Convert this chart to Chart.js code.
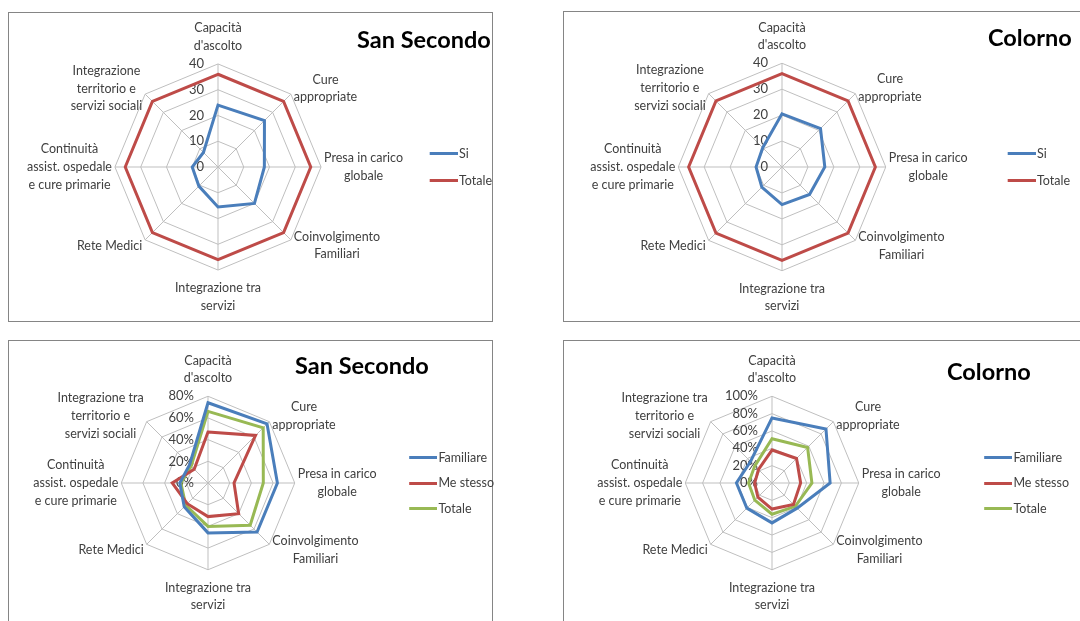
<!DOCTYPE html>
<html>
<head>
<meta charset="utf-8">
<script src="https://cdn.jsdelivr.net/npm/chart.js@4.4.1/dist/chart.umd.min.js"></script>
<style>
	body { margin: 0; background: #fff; width: 1080px; height: 621px; overflow: hidden; position: relative; font-family: Lato, 'Open Sans', sans-serif; }
	.panel { position: absolute; border: 1px solid #858585; box-sizing: border-box; background: #fff; }
	canvas { position: absolute; }
	.title { position: absolute; font-weight: bold; font-size: 23.5px; color: #000; white-space: nowrap; line-height: 1.2; }
</style>
</head>
<body>
<div class="panel" style="left:8px;top:12px;width:485px;height:310px;"></div>
<div class="panel" style="left:563px;top:11px;width:540px;height:311px;"></div>
<div class="panel" style="left:8px;top:340px;width:485px;height:300px;"></div>
<div class="panel" style="left:563px;top:340px;width:540px;height:300px;"></div>

<canvas id="c1" width="481" height="292" style="left:21px;top:21px;"></canvas>
<canvas id="c2" width="509" height="292" style="left:571px;top:21px;"></canvas>
<canvas id="c3" width="485" height="258" style="left:19px;top:354px;"></canvas>
<canvas id="c4" width="507" height="258" style="left:572px;top:354px;"></canvas>

<div class="title" style="left:357px;top:25px;">San Secondo</div>
<div class="title" style="left:988px;top:23px;">Colorno</div>
<div class="title" style="left:295px;top:351px;">San Secondo</div>
<div class="title" style="left:947px;top:357px;">Colorno</div>

<script>
// categorie
var labelsSi = [['Capacità', "d'ascolto"], ['Cure', 'appropriate'], ['Presa in carico', 'globale'], ['Coinvolgimento', 'Familiari'], ['Integrazione tra', 'servizi'], 'Rete Medici', ['Continuità', 'assist. ospedale', 'e cure primarie'], ['Integrazione', 'territorio e', 'servizi sociali']];
var labelsPerc = [['Capacità', "d'ascolto"], ['Cure', 'appropriate'], ['Presa in carico', 'globale'], ['Coinvolgimento', 'Familiari'], ['Integrazione tra', 'servizi'], 'Rete Medici', ['Continuità', 'assist. ospedale', 'e cure primarie'], ['Integrazione tra', 'territorio e', 'servizi sociali']];

// San Secondo - risposte (n)
var ssSi = [24, 25.5, 18, 20, 15.5, 10.5, 10, 8];
var ssTotale = [36, 36, 36, 36, 36, 36, 36, 36];
// Colorno - risposte (n)
var coSi = [20.5, 21, 16.5, 15, 14.5, 11, 10, 10.5];
var coTotale = [36, 36, 36, 36, 36, 36, 36, 36];

// San Secondo - %
var ssFamiliare = [74, 77, 64, 64, 46, 31, 26, 24];
var ssMeStesso = [47, 62, 24, 40, 31, 27, 33, 18];
var ssTotPerc = [66, 72, 51, 55, 40, 29, 25, 22];
// Colorno - %
var coFamiliare = [75, 88, 67, 41, 46, 41, 41, 35];
var coMeStesso = [38, 40, 33, 35, 30, 23, 20, 22];
var coTotPerc = [51, 58, 46, 38, 36, 28, 27, 28];

var BLUE = '#4a7ebb', RED = '#be4b48', GREEN = '#98b954';
var TXT = '#404040';
var FONT = 'Lato, "Open Sans", sans-serif';
var LBL_SIZE = 12.5, LBL_LH = 1.42;

Chart.defaults.font.family = FONT;
Chart.defaults.color = TXT;

// etichette dei tick a sinistra dell'asse verticale, come in Excel
var sideTicks = {
	id: 'sideTicks',
	beforeDatasetsDraw: function (chart, args, opts) {
		var s = chart.scales.r;
		var ctx = chart.ctx;
		ctx.save();
		ctx.font = '13px ' + FONT;
		ctx.fillStyle = TXT;
		ctx.textAlign = 'right';
		ctx.textBaseline = 'middle';
		s.ticks.forEach(function (t) {
			var d = s.getDistanceFromCenterForValue(t.value);
			ctx.fillText(opts.fmt(t.value), s.xCenter - 14, s.yCenter - d);
		});
		ctx.restore();
	}
};

// etichette delle categorie alla maniera di Excel: righe centrate nel blocco,
// blocchi diagonali centrati in verticale sul vertice
var excelLabels = {
	id: 'excelLabels',
	afterDraw: function (chart) {
		var s = chart.scales.r;
		var ctx = chart.ctx;
		var lh = LBL_SIZE * LBL_LH;
		ctx.save();
		ctx.font = LBL_SIZE + 'px ' + FONT;
		ctx.fillStyle = TXT;
		ctx.textAlign = 'center';
		ctx.textBaseline = 'middle';
		s._pointLabels.forEach(function (lbl, i) {
			var lines = [].concat(lbl);
			var a = s.getIndexAngle(i);
			var p = s.getPointPosition(i, s.drawingArea);
			var hx = Math.sin(a), vy = -Math.cos(a);
			var bw = 0;
			lines.forEach(function (ln) { bw = Math.max(bw, ctx.measureText(ln).width); });
			var bh = lines.length * lh;
			var cx, top;
			if (Math.abs(hx) < 0.01) {
				cx = p.x;
				top = vy < 0 ? p.y - 9 - bh : p.y + 9;
			} else {
				cx = hx > 0 ? p.x + 3 + bw / 2 : p.x - 3 - bw / 2;
				top = p.y + vy * 8 - bh / 2;
			}
			lines.forEach(function (ln, k) {
				ctx.fillText(ln, cx, top + lh * (k + 0.5));
			});
		});
		ctx.restore();
	}
};

// campione della legenda: linea subito prima del testo
function legendLine(color) {
	var c = document.createElement('canvas');
	c.width = 38; c.height = 3;
	var g = c.getContext('2d');
	g.fillStyle = color;
	g.fillRect(10, 0, 28, 3);
	return c;
}

function ds(label, data, color) {
	return { label: label, data: data, borderColor: color, backgroundColor: color, borderWidth: 3, pointRadius: 0, pointStyle: legendLine(color), fill: false, tension: 0 };
}

function radar(id, labels, datasets, max, step, fmt, legendPad) {
	return new Chart(document.getElementById(id), {
		type: 'radar',
		data: { labels: labels, datasets: datasets },
		plugins: [sideTicks, excelLabels],
		options: {
			responsive: false, animation: false,
			layout: { padding: 0 },
			plugins: {
				sideTicks: { fmt: fmt },
				tooltip: { enabled: false },
				legend: {
					position: 'right',
					labels: { usePointStyle: true, pointStyleWidth: 28, boxHeight: 3, padding: legendPad, color: TXT, font: { size: 12.5 } }
				}
			},
			scales: {
				r: {
					min: 0, max: max,
					ticks: { stepSize: step, display: false },
					grid: { color: '#bfbfbf', lineWidth: 1 },
					angleLines: { color: '#bfbfbf', lineWidth: 1 },
					pointLabels: { color: 'rgba(0,0,0,0)', font: { size: LBL_SIZE, lineHeight: 1.45 }, padding: 6 }
				}
			}
		}
	});
}

function fmtN(v) { return String(v); }
function fmtP(v) { return Math.round(v) + '%'; }

var charts = [
	radar('c1', labelsSi, [ds('Si', ssSi, BLUE), ds('Totale', ssTotale, RED)], 40, 10, fmtN, 14.5),
	radar('c2', labelsSi, [ds('Si', coSi, BLUE), ds('Totale', coTotale, RED)], 40, 10, fmtN, 14.5),
	radar('c3', labelsPerc, [ds('Familiare', ssFamiliare, BLUE), ds('Me stesso', ssMeStesso, RED), ds('Totale', ssTotPerc, GREEN)], 80, 20, fmtP, 13),
	radar('c4', labelsPerc, [ds('Familiare', coFamiliare, BLUE), ds('Me stesso', coMeStesso, RED), ds('Totale', coTotPerc, GREEN)], 100, 20, fmtP, 13)
];
</script>
</body>
</html>
